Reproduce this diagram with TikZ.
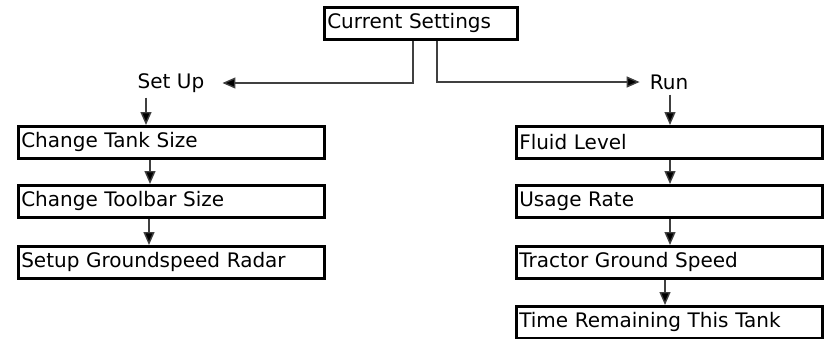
\documentclass[tikz,border=0pt]{standalone}
\usepackage{fontspec}
\setmainfont{DejaVu Sans}
\usetikzlibrary{arrows.meta}

\begin{document}
\begin{tikzpicture}[x=1pt,y=-1pt,
  menubox/.style={draw, line width=2.5pt, anchor=north west, minimum height=32pt,
    inner xsep=3pt, text width=300pt, align=left, font=\fontsize{20}{22}\selectfont},
  branch/.style={inner sep=0pt, font=\fontsize{20}{22}\selectfont},
  flow/.style={draw=black!75, line width=1.4pt, -{Triangle[length=13pt,width=11pt,fill=black]}}]
\useasboundingbox (0,0) rectangle (827,338);
\node[menubox, text width=187pt] (current) at (323,6) {Current Settings};
\node[branch] (setup) at (171,83) {Set Up};
\node[branch] (run) at (669,82) {Run};
\node[menubox] (tank) at (17,125) {Change Tank Size};
\node[menubox] (toolbar) at (17,184) {Change Toolbar Size};
\node[menubox] (radar) at (17,245) {Setup Groundspeed Radar};
\node[menubox] (fluid) at (515,125) {Fluid Level};
\node[menubox] (usage) at (515,184) {Usage Rate};
\node[menubox] (speed) at (515,245) {Tractor Ground Speed};
\node[menubox] (remain) at (515,305) {Time Remaining This Tank};
\draw[flow] ([xshift=90pt]current.south west) |- ([xshift=18pt]setup.east);
\draw[flow] ([xshift=114pt]current.south west) |- ([xshift=-10pt]run.west);
\draw[flow] ([shift={(-25,5)}]setup.south) -- ([xshift=-25pt]setup.south |- tank.north);
\draw[flow] ([xshift=133pt]tank.south west) -- ([xshift=133pt]toolbar.north west);
\draw[flow] ([xshift=132pt]toolbar.south west) -- ([xshift=132pt]radar.north west);
\draw[flow] ([shift={(1,5)}]run.south) -- ([xshift=1pt]run.south |- fluid.north);
\draw[flow] ([xshift=155pt]fluid.south west) -- ([xshift=155pt]usage.north west);
\draw[flow] ([xshift=155pt]usage.south west) -- ([xshift=155pt]speed.north west);
\draw[flow] ([xshift=150pt]speed.south west) -- ([xshift=150pt]remain.north west);
\end{tikzpicture}
\end{document}
